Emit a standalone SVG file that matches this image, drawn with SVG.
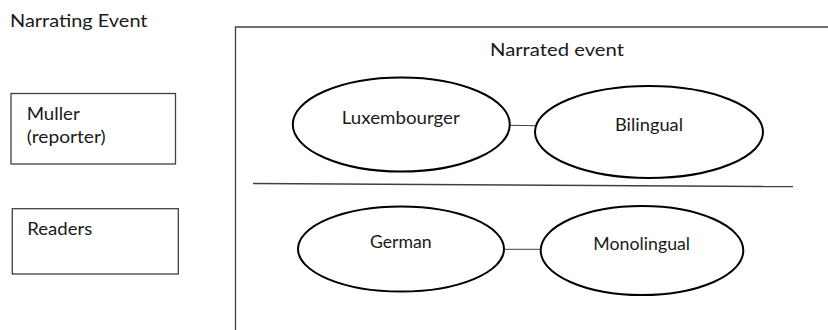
<svg xmlns="http://www.w3.org/2000/svg" width="828" height="330" viewBox="0 0 828 330">
  <style>
    text { font-family: Lato, "Open Sans", "Liberation Sans", sans-serif; font-size: 17.5px; fill: #1a1a1a; }
    .box { fill: #ffffff; stroke: #404040; stroke-width: 1.3; }
    .oval { fill: #ffffff; stroke: #000000; stroke-width: 2; }
    .link { stroke: #404040; stroke-width: 1; fill: none; }
    .mid { text-anchor: middle; }
  </style>
  <rect width="828" height="330" fill="#ffffff"/>

  <g id="narrating-event">
    <text x="10" y="26.7" textLength="137.5" lengthAdjust="spacingAndGlyphs">Narrating Event</text>
  </g>

  <g id="muller">
    <rect class="box" x="11" y="93.5" width="164.5" height="70.5"/>
    <text x="26.7" y="120" textLength="53" lengthAdjust="spacingAndGlyphs">Muller</text>
    <text x="26.7" y="143" textLength="79" lengthAdjust="spacingAndGlyphs">(reporter)</text>
  </g>

  <g id="readers">
    <rect class="box" x="12.3" y="208.7" width="166" height="65.3"/>
    <text x="27.3" y="235.3" textLength="65" lengthAdjust="spacingAndGlyphs">Readers</text>
  </g>

  <g id="narrated-event">
    <path class="box" d="M235.5,332 V27 H830" fill="none"/>
    <text x="490" y="56" textLength="134" lengthAdjust="spacingAndGlyphs">Narrated event</text>
  </g>

  <g id="connectors">
    <line class="link" x1="510" y1="125.3" x2="535" y2="125.7"/>
    <line class="link" x1="504" y1="249.3" x2="541" y2="249.3"/>
    <line x1="253" y1="183.6" x2="793" y2="186.6" stroke="#404040" stroke-width="1.5"/>
  </g>

  <g id="luxembourger">
    <ellipse class="oval" cx="401.3" cy="124.5" rx="108.5" ry="47"/>
    <text class="mid" x="400.8" y="124" textLength="118" lengthAdjust="spacingAndGlyphs">Luxembourger</text>
  </g>

  <g id="bilingual">
    <ellipse class="oval" cx="649" cy="132" rx="114" ry="46"/>
    <text class="mid" x="649" y="130.7" textLength="68" lengthAdjust="spacingAndGlyphs">Bilingual</text>
  </g>

  <g id="german">
    <ellipse class="oval" cx="401" cy="249" rx="103" ry="42.5"/>
    <text class="mid" x="400.8" y="248.3" textLength="61.7" lengthAdjust="spacingAndGlyphs">German</text>
  </g>

  <g id="monolingual">
    <ellipse class="oval" cx="642" cy="250.5" rx="101.3" ry="44.5"/>
    <text class="mid" x="641.7" y="250" textLength="96.7" lengthAdjust="spacingAndGlyphs">Monolingual</text>
  </g>
</svg>
